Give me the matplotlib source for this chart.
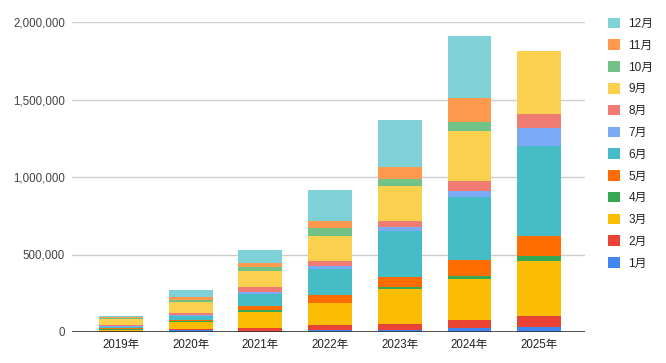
import matplotlib
matplotlib.use("Agg")
import matplotlib.pyplot as plt
import numpy as np
from matplotlib.ticker import FuncFormatter

plt.rcParams["font.family"] = ["Liberation Sans", "Noto Sans CJK SC", "DejaVu Sans"]

years = ["2019年", "2020年", "2021年", "2022年", "2023年", "2024年", "2025年"]
months = ["1月", "2月", "3月", "4月", "5月", "6月", "7月", "8月", "9月", "10月", "11月", "12月"]

# 各月数值（按年份顺序）
m01 = [3000, 11000, 2000, 14000, 13000, 25000, 31000]
m02 = [6000, 10000, 21000, 28000, 39000, 50000, 71000]
m03 = [6000, 42000, 103000, 143000, 226000, 266000, 355000]
m04 = [6000, 8000, 13000, 3000, 13000, 20000, 35000]
m05 = [6000, 8000, 31000, 52000, 65000, 106000, 129000]
m06 = [6000, 22000, 73000, 166000, 293000, 406000, 576000]
m07 = [8000, 10000, 18000, 22000, 26000, 39000, 116000]
m08 = [3000, 11000, 28000, 32000, 44000, 65000, 91000]
m09 = [40000, 74000, 103000, 162000, 226000, 320000, 409000]
m10 = [5000, 11000, 26000, 46000, 45000, 56000, 0]
m11 = [8000, 21000, 26000, 50000, 76000, 156000, 0]
m12 = [6000, 43000, 85000, 196000, 300000, 402000, 0]

series = [m01, m02, m03, m04, m05, m06, m07, m08, m09, m10, m11, m12]
colors = ["#4285F4", "#EA4335", "#FBBC04", "#34A853", "#FF6D01", "#46BDC6",
          "#7BAAF7", "#F07B72", "#FCD04F", "#71C287", "#FF994D", "#7ED1D7"]

W, H = 666, 363
fig = plt.figure(figsize=(W / 100, H / 100), dpi=100)
ax = fig.add_axes([72 / W, (H - 332) / H, (585 - 72) / W, (332 - 22) / H])

x = np.arange(len(years))
bottom = np.zeros(len(years))
handles = []
for vals, c, lab in zip(series, colors, months):
    v = np.array(vals, dtype=float)
    b = ax.bar(x, v, 0.63, bottom=bottom, color=c, label=lab, linewidth=0, zorder=2)
    handles.append(b)
    bottom += v

ax.set_xlim(-0.703, 6.657)
ax.set_ylim(0, 2000000)
ax.set_yticks([0, 500000, 1000000, 1500000, 2000000])
ax.yaxis.set_major_formatter(FuncFormatter(lambda v, p: f"{int(v):,}"))
ax.set_xticks(x)
ax.set_xticklabels(years)
ax.tick_params(axis="both", length=0, labelsize=8.3, colors="#222222")
ax.tick_params(axis="y", pad=5, labelcolor="#444444")
ax.tick_params(axis="x", pad=5)
for s in ax.spines.values():
    s.set_visible(False)
ax.grid(axis="y", color="#cccccc", linewidth=1, zorder=0)
ax.axhline(0, color="#333333", linewidth=1.2, zorder=3)

leg = fig.legend(handles[::-1], months[::-1], loc="upper left",
                 bbox_to_anchor=(603 / W, 1 - 13 / H), frameon=False,
                 fontsize=8.5, handlelength=1.0, handleheight=1.0,
                 handletextpad=0.75, labelspacing=0.8, borderaxespad=0)
for t in leg.get_texts():
    t.set_color("#222222")

fig.savefig("out.png", dpi=100)
